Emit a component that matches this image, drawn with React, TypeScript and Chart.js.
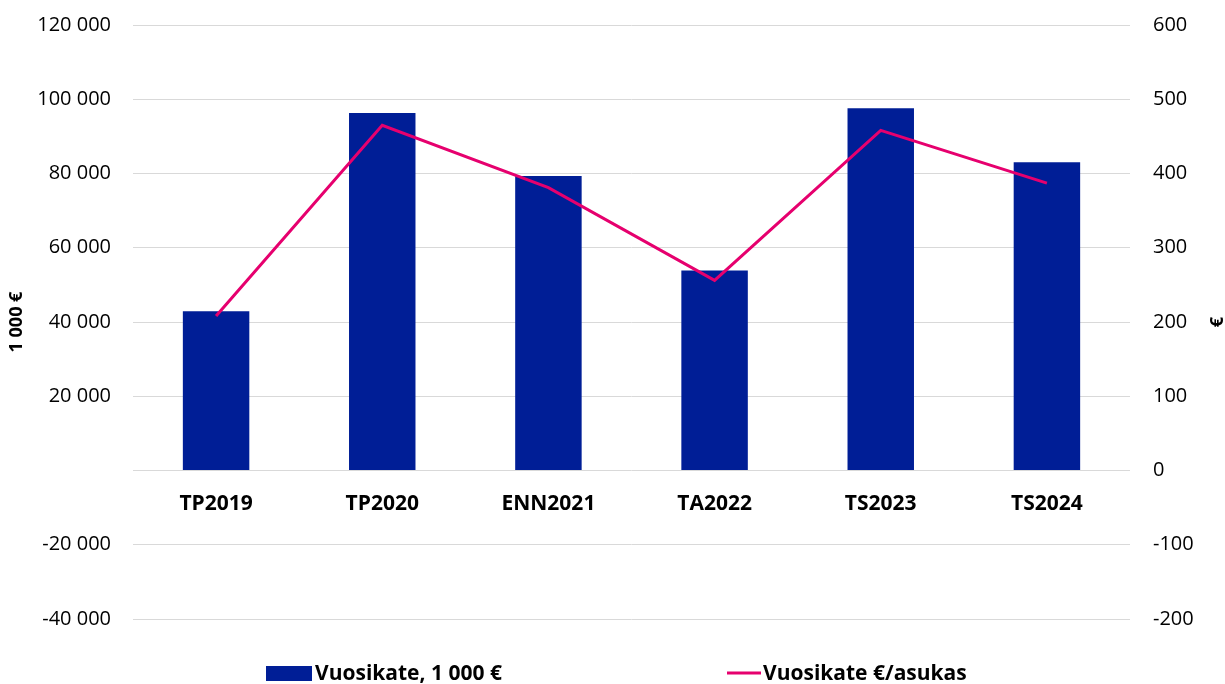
import React, { useEffect, useRef } from "react";
import { Chart, registerables } from "chart.js";

Chart.register(...registerables);

const categories = ["TP2019", "TP2020", "ENN2021", "TA2022", "TS2023", "TS2024"];
const vuosikate = [42900, 96300, 79300, 53900, 97600, 83000];
const perAsukas = [208, 465, 381, 256, 458, 387];
const barLabel = "Vuosikate, 1 000 €";
const lineLabel = "Vuosikate €/asukas";
const leftTitle = "1 000 €";
const rightTitle = "€";

const BAR_COLOR = "#001E96";
const LINE_COLOR = "#E6006E";
const FONT = "'Open Sans', 'Noto Sans', sans-serif";

function fmt(v: number): string {
  const s = Math.abs(v).toString().replace(/\B(?=(\d{3})+(?!\d))/g, " ");
  return (v < 0 ? "-" : "") + s;
}

const customPlugin = {
  id: "customDecor",
  afterDraw(chart: any) {
    const ctx = chart.ctx;
    const area = chart.chartArea;
    ctx.save();
    // right axis title, rotated counter-clockwise
    ctx.font = `bold 18px ${FONT}`;
    ctx.fillStyle = "#000";
    ctx.textAlign = "center";
    ctx.textBaseline = "middle";
    ctx.translate(chart.width - 7, (area.top + area.bottom) / 2);
    ctx.rotate(-Math.PI / 2);
    ctx.fillText(rightTitle, 0, 0);
    ctx.restore();

    // legend
    ctx.save();
    const ly = 673;
    ctx.font = `bold 21px ${FONT}`;
    ctx.textAlign = "left";
    ctx.textBaseline = "middle";
    const ds = chart.data.datasets;
    ctx.fillStyle = ds[0].backgroundColor;
    ctx.fillRect(266, ly - 7, 46, 15);
    ctx.fillStyle = "#000";
    ctx.fillText(ds[0].label, 315, ly + 1);
    ctx.strokeStyle = ds[1].borderColor;
    ctx.lineWidth = 3;
    ctx.beginPath();
    ctx.moveTo(727, ly);
    ctx.lineTo(761, ly);
    ctx.stroke();
    ctx.fillText(ds[1].label, 763, ly + 1);
    ctx.restore();
  },
};

function fitVertical(width: number) {
  return (scale: any) => {
    scale.width = width;
    scale.paddingTop = 0;
    scale.paddingBottom = 0;
  };
}

export default function App() {
  const ref = useRef<HTMLCanvasElement | null>(null);
  useEffect(() => {
    if (!ref.current) return;
    const chart = new Chart(ref.current, {
      type: "bar",
      data: {
        labels: categories,
        datasets: [
          {
            type: "bar",
            label: barLabel,
            data: vuosikate,
            backgroundColor: BAR_COLOR,
            borderWidth: 0,
            yAxisID: "y",
            order: 1,
            barPercentage: 0.4,
            categoryPercentage: 1,
          },
          {
            type: "line",
            label: lineLabel,
            data: perAsukas,
            borderColor: LINE_COLOR,
            backgroundColor: LINE_COLOR,
            borderWidth: 3,
            pointRadius: 0,
            tension: 0,
            yAxisID: "y1",
            order: 0,
          },
        ],
      },
      options: {
        animation: false,
        responsive: true,
        maintainAspectRatio: false,
        layout: { padding: { top: 25, bottom: 65, left: 0, right: 0 } },
        plugins: {
          legend: { display: false },
          tooltip: { enabled: false },
        },
        scales: {
          x: {
            position: { y: 0 } as any,
            afterFit(scale: any) {
              scale.paddingTop = 0;
              scale.paddingBottom = 0;
            },
            grid: { display: false, drawTicks: false },
            border: { display: false },
            ticks: {
              padding: 21,
              color: "#000",
              font: { family: FONT, size: 21, weight: "bold" },
            },
          },
          y: {
            position: "left",
            min: -40000,
            max: 120000,
            afterFit: fitVertical(133),
            grid: { color: "#d9d9d9", lineWidth: 1, drawTicks: false },
            border: { display: false },
            ticks: {
              stepSize: 20000,
              padding: 22,
              color: "#000",
              font: { family: FONT, size: 20 },
              callback: (v: any) => (Number(v) === 0 ? "" : fmt(Number(v))),
            },
            title: {
              display: true,
              text: leftTitle,
              color: "#000",
              font: { family: FONT, size: 18, weight: "bold" },
              padding: { top: 6, bottom: 0 },
            },
          },
          y1: {
            position: "right",
            min: -200,
            max: 600,
            afterFit: fitVertical(95),
            grid: { display: false, drawTicks: false },
            border: { display: false },
            ticks: {
              stepSize: 100,
              padding: 23,
              color: "#000",
              font: { family: FONT, size: 20 },
              callback: (v: any) => fmt(Number(v)),
            },
          },
        },
      },
      plugins: [customPlugin],
    } as any);
    return () => chart.destroy();
  }, []);
  return (
    <div style={{ position: "fixed", left: 0, top: 0, width: 1225, height: 684, background: "#fff" }}>
      <canvas ref={ref} />
    </div>
  );
}
